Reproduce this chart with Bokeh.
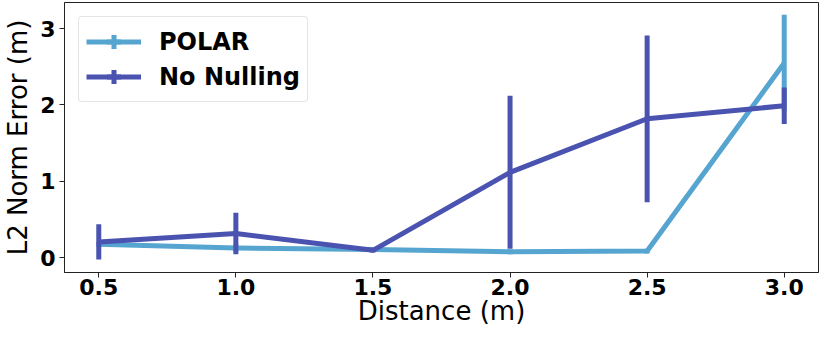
from bokeh.plotting import figure
from bokeh.models import Range1d, FixedTicker, Legend, LegendItem, NumeralTickFormatter
from bokeh.embed import file_html
from bokeh.resources import INLINE

# ---- data ----
distance = [0.5, 1.0, 1.5, 2.0, 2.5, 3.0]
polar_mean = [0.18, 0.13, 0.11, 0.08, 0.09, 2.55]
polar_err = [0.03, 0.05, 0.02, 0.03, 0.03, 0.63]
nonull_mean = [0.21, 0.32, 0.10, 1.12, 1.82, 1.99]
nonull_err = [0.23, 0.27, 0.03, 1.00, 1.09, 0.24]
x_ticks = [0.5, 1.0, 1.5, 2.0, 2.5, 3.0]
y_ticks = [0, 1, 2, 3]

POLAR_COLOR = "#56A5D0"
NONULL_COLOR = "#4B53B1"
FONT = "DejaVu Sans"

p = figure(width=820, height=328, output_backend="svg", toolbar_location=None,
           x_range=Range1d(0.375, 3.125), y_range=Range1d(-0.19, 3.34),
           min_border_left=60, min_border_right=2, min_border_top=2, min_border_bottom=10)

p.xgrid.visible = False
p.ygrid.visible = False
p.outline_line_color = "#222222"
p.outline_line_width = 1
p.background_fill_color = "white"
p.border_fill_color = "white"


def series(mean, err, color):
    lower = [m - e for m, e in zip(mean, err)]
    upper = [m + e for m, e in zip(mean, err)]
    ln = p.line(distance, mean, line_color=color, line_width=5, line_join="round")
    p.segment(x0=distance, y0=lower, x1=distance, y1=upper, line_color=color, line_width=5)
    mk = p.scatter(distance, mean, marker="cross", size=0, line_color=color, line_width=5)
    return ln, mk


l1, m1 = series(polar_mean, polar_err, POLAR_COLOR)
l2, m2 = series(nonull_mean, nonull_err, NONULL_COLOR)

legend = Legend(items=[LegendItem(label="POLAR", renderers=[l1, m1]),
                       LegendItem(label="No Nulling", renderers=[l2, m2])],
                location="top_left")
legend.label_text_font = FONT
legend.label_text_font_style = "bold"
legend.label_text_font_size = "24px"
legend.label_text_color = "black"
legend.glyph_width = 55
legend.glyph_height = 35
legend.label_standoff = 18
legend.padding = 7
legend.spacing = 0
legend.margin = 14
legend.border_line_color = "#cccccc"
legend.border_line_width = 1
legend.background_fill_alpha = 0.8
if "border_radius" in Legend.properties():
    legend.border_radius = 4
p.add_layout(legend)

for ax in (p.xaxis[0], p.yaxis[0]):
    ax.major_label_text_font = FONT
    ax.major_label_text_font_style = "bold"
    ax.major_label_text_font_size = "22px"
    ax.major_label_text_color = "black"
    ax.axis_label_text_font = FONT
    ax.axis_label_text_font_style = "normal"
    ax.axis_label_text_font_size = "26px"
    ax.axis_label_text_color = "black"
    ax.minor_tick_line_color = None
    ax.major_tick_in = 0
    ax.major_tick_out = 5
    ax.major_tick_line_color = "#222222"
    ax.axis_line_color = "#222222"
    ax.major_label_standoff = 4
    ax.axis_label_standoff = 4

p.xaxis[0].ticker = FixedTicker(ticks=x_ticks)
p.xaxis[0].formatter = NumeralTickFormatter(format="0.0")
p.xaxis[0].axis_label = "Distance (m)"
p.xaxis[0].major_label_standoff = 1
p.xaxis[0].axis_label_standoff = -2
p.yaxis[0].ticker = FixedTicker(ticks=y_ticks)
p.yaxis[0].axis_label = "L2 Norm Error (m)"

open("out.html", "w").write(file_html(p, INLINE))
